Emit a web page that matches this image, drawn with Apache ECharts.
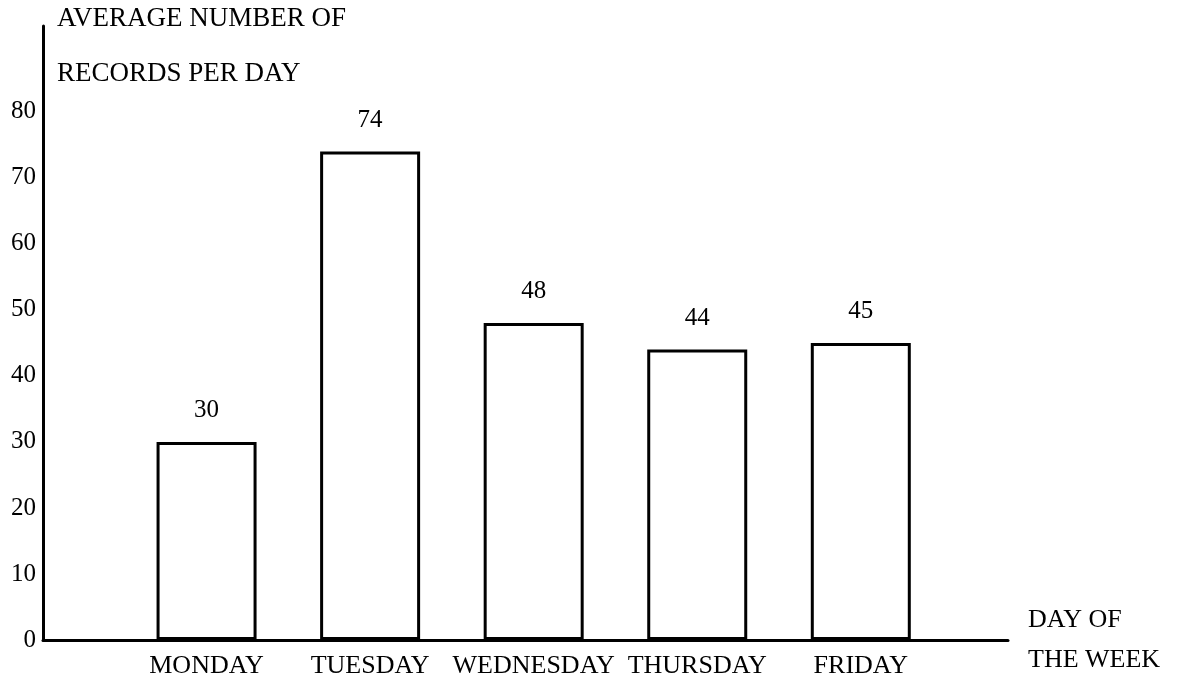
<!DOCTYPE html>
<html>
<head>
<meta charset="utf-8">
<script src="https://cdn.jsdelivr.net/npm/echarts@6/dist/echarts.min.js"></script>
<style>
html, body { margin: 0; padding: 0; background: #fff; }
#chartcontainer { width: 1178px; height: 681px; }
</style>
</head>
<body>
<div id="chartcontainer"></div>
<script>
// data
var dayNames = ['MONDAY', 'TUESDAY', 'WEDNESDAY', 'THURSDAY', 'FRIDAY'];
var dayPos = [1, 2, 3, 4, 5];
var recordsPerDay = [30, 74, 48, 44, 45];
var yTickMax = 80;

var chartDom = document.getElementById('chartcontainer');
var myChart = echarts.init(chartDom, null, { renderer: 'canvas' });

var barData = [];
for (var i = 0; i < dayPos.length; i++) {
	barData.push([dayPos[i], recordsPerDay[i]]);
}

var font = 'Liberation Serif';

var option = {
	backgroundColor: '#fff',
	animation: false,
	title: {
		text: 'AVERAGE NUMBER OF',
		subtext: 'RECORDS PER DAY',
		left: 57,
		top: 5,
		padding: 0,
		itemGap: 28,
		textStyle: { fontFamily: font, fontSize: 27, fontWeight: 'normal', color: '#000' },
		subtextStyle: { fontFamily: font, fontSize: 27, color: '#000' }
	},
	grid: {
		left: 43,
		right: 170,
		top: 26,
		bottom: 41
	},
	xAxis: {
		type: 'value',
		min: 0,
		max: 5.9,
		interval: 1,
		name: 'DAY OF\nTHE WEEK',
		nameLocation: 'end',
		nameGap: 20,
		nameTextStyle: {
			fontFamily: font, fontSize: 26, color: '#000',
			align: 'left', verticalAlign: 'middle', lineHeight: 40
		},
		axisLine: { lineStyle: { color: '#000', width: 3 } },
		axisTick: { show: false },
		splitLine: { show: false },
		axisLabel: {
			showMinLabel: false,
			showMaxLabel: false,
			margin: 13,
			fontFamily: font, fontSize: 26, color: '#000',
			formatter: function (v) {
				var idx = dayPos.indexOf(v);
				return idx >= 0 ? dayNames[idx] : '';
			}
		}
	},
	yAxis: {
		type: 'value',
		min: 0,
		max: 93,
		interval: 10,
		axisLine: { show: true, lineStyle: { color: '#000', width: 3 } },
		axisTick: { show: false },
		splitLine: { show: false },
		axisLabel: {
			margin: 7,
			fontFamily: font, fontSize: 25, color: '#000',
			formatter: function (v) {
				return v <= yTickMax ? String(v) : '';
			}
		}
	},
	series: [
		{
			type: 'bar',
			data: barData,
			barWidth: 100,
			itemStyle: { color: '#fff', borderColor: '#000', borderWidth: 3 },
			label: {
				show: true,
				position: 'top',
				distance: 19,
				fontFamily: font, fontSize: 25, color: '#000'
			}
		}
	]
};

myChart.setOption(option);
window.addEventListener('resize', myChart.resize);
</script>
</body>
</html>
